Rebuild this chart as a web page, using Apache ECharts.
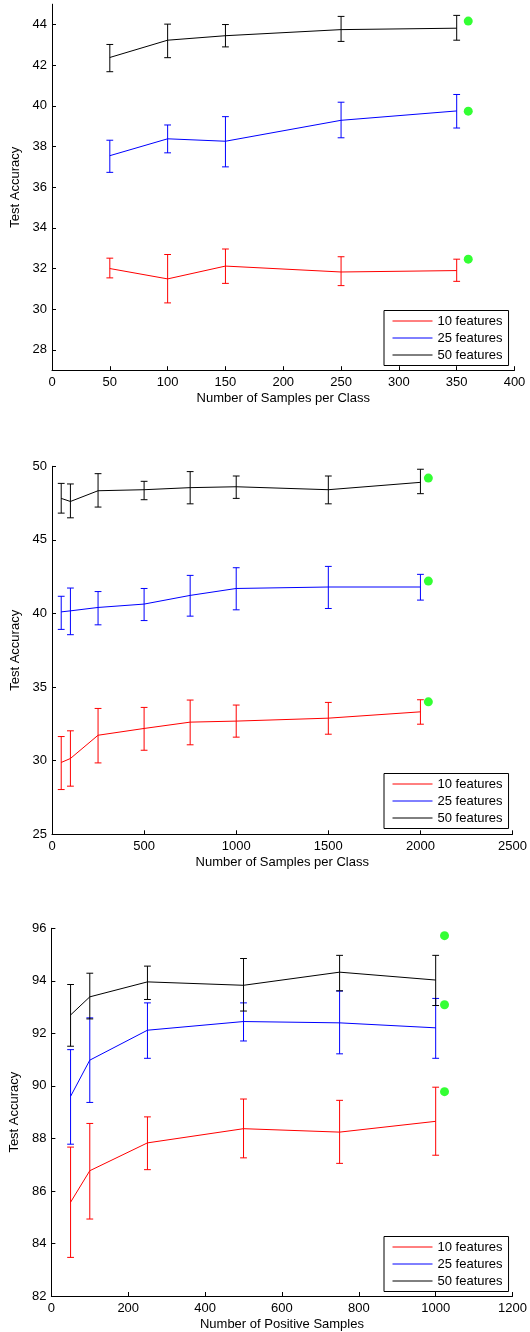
<!DOCTYPE html>
<html>
<head>
<meta charset="utf-8">
<script src="https://cdn.jsdelivr.net/npm/echarts@6/dist/echarts.min.js"></script>
<style>
html,body{margin:0;padding:0;background:#fff;}
#chart{width:530px;height:1332px;}
</style>
</head>
<body>
<div id="chart"></div>
<script>
// ---------- DATA ----------
const seriesNames = ['10 features', '25 features', '50 features'];

// Panel 1: Number of Samples per Class (0..400)
const p1X = [50, 100, 150, 250, 350];
const p1Red = [32.0, 31.49, 32.12, 31.83, 31.9];
const p1RedLo = [31.54, 30.31, 31.27, 31.16, 31.37];
const p1RedHi = [32.51, 32.69, 32.96, 32.58, 32.46];
const p1Blue = [37.55, 38.38, 38.26, 39.29, 39.75];
const p1BlueLo = [36.73, 37.69, 37.0, 38.43, 38.91];
const p1BlueHi = [38.31, 39.06, 39.47, 40.18, 40.56];
const p1Black = [42.38, 43.23, 43.45, 43.75, 43.82];
const p1BlackLo = [41.68, 42.37, 42.9, 43.17, 43.23];
const p1BlackHi = [43.02, 44.02, 44.0, 44.4, 44.45];
const p1GreenX = [360, 360, 360];
const p1GreenY = [32.46, 39.74, 44.17];
const p1YTicks = [28, 30, 32, 34, 36, 38, 40, 42, 44];

// Panel 2: Number of Samples per Class (0..2500)
const p2X = [50, 100, 250, 500, 750, 1000, 1500, 2000];
const p2Red = [29.88, 30.15, 31.73, 32.19, 32.62, 32.69, 32.89, 33.32];
const p2RedLo = [28.04, 28.27, 29.85, 30.71, 31.08, 31.6, 31.8, 32.48];
const p2RedHi = [31.64, 32.03, 33.55, 33.62, 34.12, 33.78, 33.96, 34.14];
const p2Blue = [40.11, 40.18, 40.41, 40.64, 41.23, 41.7, 41.8, 41.8];
const p2BlueLo = [38.92, 38.56, 39.23, 39.52, 39.82, 40.25, 40.34, 40.91];
const p2BlueHi = [41.17, 41.73, 41.49, 41.7, 42.59, 43.11, 43.2, 42.66];
const p2Black = [47.82, 47.61, 48.34, 48.41, 48.55, 48.61, 48.41, 48.91];
const p2BlackLo = [46.82, 46.5, 47.23, 47.73, 47.45, 47.82, 47.45, 48.14];
const p2BlackHi = [48.84, 48.8, 49.5, 48.98, 49.64, 49.34, 49.34, 49.8];
const p2GreenX = [2043, 2043, 2043];
const p2GreenY = [34.0, 42.2, 49.2];

// Panel 3: Number of Positive Samples (0..1200)
const p3X = [50, 100, 250, 500, 750, 1000];
const p3Red = [85.57, 86.77, 87.83, 88.37, 88.24, 88.65];
const p3RedLo = [83.47, 84.93, 86.81, 87.26, 87.05, 87.36];
const p3RedHi = [87.67, 88.57, 88.82, 89.5, 89.45, 89.95];
const p3Blue = [89.6, 90.98, 92.12, 92.45, 92.4, 92.21];
const p3BlueLo = [87.78, 89.37, 91.05, 91.71, 91.22, 91.05];
const p3BlueHi = [91.38, 92.59, 93.16, 93.16, 93.61, 93.33];
const p3Black = [92.7, 93.39, 93.96, 93.83, 94.33, 94.03];
const p3BlackLo = [91.51, 92.55, 93.29, 92.85, 93.62, 93.06];
const p3BlackHi = [93.86, 94.29, 94.56, 94.85, 94.97, 94.97];
const p3GreenX = [1023, 1023, 1023];
const p3GreenY = [89.78, 93.09, 95.72];

// ---------- BUILD ----------
const FONT = 'Liberation Sans';
const TXT = '#000';
const colors = ['#ff0000', '#0000ff', '#000000'];

const panels = [
  {x: p1X, y: [p1Red, p1Blue, p1Black], lo: [p1RedLo, p1BlueLo, p1BlackLo], hi: [p1RedHi, p1BlueHi, p1BlackHi],
   gx: p1GreenX, gy: p1GreenY,
   grid: {left: 52, width: 462.5, top: 4.2, height: 366},
   xmin: 0, xmax: 400, xint: 50, ymin: 27, ymax: 45, yTicks: p1YTicks,
   xname: 'Number of Samples per Class', legendTop: 310.5},
  {x: p2X, y: [p2Red, p2Blue, p2Black], lo: [p2RedLo, p2BlueLo, p2BlackLo], hi: [p2RedHi, p2BlueHi, p2BlackHi],
   gx: p2GreenX, gy: p2GreenY,
   grid: {left: 52, width: 462.5, top: 466.3, height: 368},
   xmin: 0, xmax: 2500, xint: 500, ymin: 25, ymax: 50, yint: 5,
   xname: 'Number of Samples per Class', legendTop: 773.5},
  {x: p3X, y: [p3Red, p3Blue, p3Black], lo: [p3RedLo, p3BlueLo, p3BlackLo], hi: [p3RedHi, p3BlueHi, p3BlackHi],
   gx: p3GreenX, gy: p3GreenY,
   grid: {left: 51, width: 463.5, top: 928.3, height: 368},
   xmin: 0, xmax: 1200, xint: 200, ymin: 82, ymax: 96, yint: 2,
   xname: 'Number of Positive Samples', legendTop: 1236.5}
];

const grids = [], xAxes = [], yAxes = [], series = [], legends = [];

function errRender(color) {
  return function (params, api) {
    const x = api.value(0), lo = api.value(1), hi = api.value(2);
    const a = api.coord([x, lo]);
    const b = api.coord([x, hi]);
    const w = 3.4;
    const st = {stroke: color, lineWidth: 1};
    return {type: 'group', children: [
      {type: 'line', shape: {x1: a[0], y1: a[1], x2: b[0], y2: b[1]}, style: st},
      {type: 'line', shape: {x1: a[0] - w, y1: a[1], x2: a[0] + w, y2: a[1]}, style: st},
      {type: 'line', shape: {x1: b[0] - w, y1: b[1], x2: b[0] + w, y2: b[1]}, style: st}
    ]};
  };
}

const plainNum = v => String(v);

panels.forEach((p, i) => {
  grids.push(Object.assign({containLabel: false}, p.grid));
  const axisCommon = {
    axisLine: {show: true, onZero: false, lineStyle: {color: '#000', width: 1}},
    axisTick: {show: true, inside: true, length: 4, lineStyle: {color: '#000', width: 1}},
    splitLine: {show: false},
    nameLocation: 'middle',
    nameTextStyle: {fontFamily: FONT, fontSize: 13, color: TXT}
  };
  xAxes.push(Object.assign({}, axisCommon, {
    type: 'value', gridIndex: i, min: p.xmin, max: p.xmax, interval: p.xint,
    axisLabel: {fontFamily: FONT, fontSize: 13, color: TXT, margin: 6, formatter: plainNum},
    name: p.xname, nameGap: 22
  }));
  const y = Object.assign({}, axisCommon, {
    type: 'value', gridIndex: i, min: p.ymin, max: p.ymax,
    name: 'Test Accuracy', nameGap: 22
  });
  if (p.yTicks) {
    y.interval = 1;
    y.axisTick = Object.assign({}, axisCommon.axisTick, {customValues: p.yTicks});
    y.axisLabel = {fontFamily: FONT, fontSize: 13, color: TXT, margin: 5, customValues: p.yTicks, formatter: plainNum};
  } else {
    y.interval = p.yint;
    y.axisLabel = {fontFamily: FONT, fontSize: 13, color: TXT, margin: 5, formatter: plainNum};
  }
  yAxes.push(y);

  // lines
  for (let k = 0; k < 3; k++) {
    series.push({
      type: 'line', name: seriesNames[k], xAxisIndex: i, yAxisIndex: i,
      data: p.x.map((xv, j) => [xv, p.y[k][j]]),
      symbol: 'none', color: colors[k],
      lineStyle: {color: colors[k], width: 1},
      z: 3
    });
  }
  // error bars
  for (let k = 0; k < 3; k++) {
    series.push({
      type: 'custom', name: 'err' + i + '_' + k, xAxisIndex: i, yAxisIndex: i,
      data: p.x.map((xv, j) => [xv, p.lo[k][j], p.hi[k][j]]),
      encode: {x: 0, y: [1, 2]},
      renderItem: errRender(colors[k]),
      z: 3
    });
  }
  // green markers
  series.push({
    type: 'scatter', name: 'best' + i, xAxisIndex: i, yAxisIndex: i,
    data: p.gx.map((xv, j) => [xv, p.gy[j]]),
    symbol: 'circle', symbolSize: 9,
    itemStyle: {color: '#00ff00'},
    z: 4
  });

  legends.push({
    data: seriesNames, orient: 'vertical', left: 384, top: p.legendTop,
    itemWidth: 40, itemHeight: 14, itemGap: 4,
    padding: [4, 6, 4, 8],
    borderColor: '#000', borderWidth: 1, backgroundColor: '#fff',
    itemStyle: {opacity: 0, borderWidth: 0},
    lineStyle: {width: 1},
    textStyle: {fontFamily: FONT, fontSize: 13, color: TXT},
    selectedMode: false, z: 10
  });
});

const chart = echarts.init(document.getElementById('chart'), null, {renderer: 'canvas'});
chart.setOption({
  animation: false,
  backgroundColor: '#fff',
  grid: grids, xAxis: xAxes, yAxis: yAxes,
  legend: legends,
  series: series
});
</script>
</body>
</html>
